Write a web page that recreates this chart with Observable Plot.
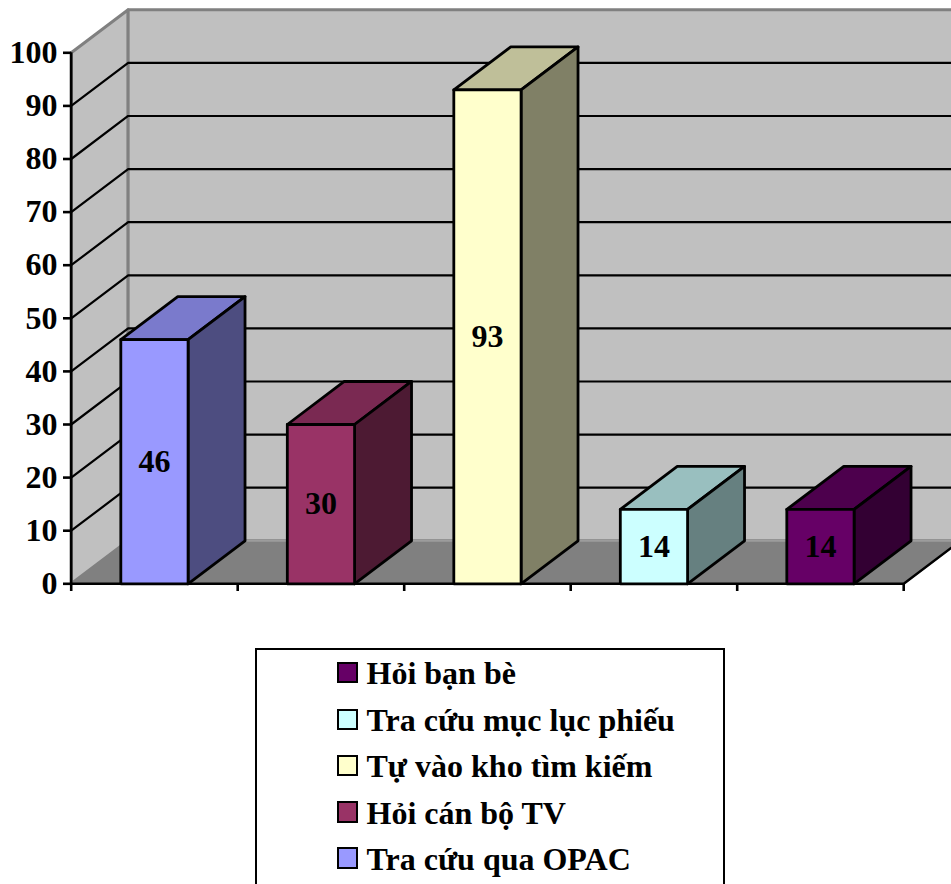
<!DOCTYPE html>
<html>
<head>
<meta charset="utf-8">
<script src="https://cdn.jsdelivr.net/npm/d3@7"></script>
<script src="https://cdn.jsdelivr.net/npm/@observablehq/plot@0.6"></script>
<style>
  html, body { margin: 0; padding: 0; background: #fff; overflow: hidden; height: 884px; }
  #chart svg { display: block; }
  #legend {
    position: absolute; left: 255px; top: 648px; width: 466px; height: 260px;
    border: 2.5px solid #000; border-bottom: none; box-sizing: content-box;
    font: bold 32px "Liberation Serif", serif; color: #000;
  }
  .row { position: absolute; left: 79.5px; height: 24px; display: flex; align-items: center; white-space: nowrap; }
  .swatch { width: 17.5px; height: 17.5px; border: 2px solid #000; margin-right: 8.5px; flex: none; }
  .row span:last-child { position: relative; top: 1px; }
</style>
</head>
<body>
<div id="chart"></div>
<div id="legend"></div>
<script>
// Series values, one bar per category, drawn left to right.
const categories = ["Tra cứu qua OPAC", "Hỏi cán bộ TV", "Tự vào kho tìm kiếm", "Tra cứu mục lục phiếu", "Hỏi bạn bè"];
const values = [46, 30, 93, 14, 14];
const frontColors = ["#9999FF", "#993366", "#FFFFCC", "#CCFFFF", "#660066"];
const topColors = ["#7A7ACC", "#7A2952", "#BFBF99", "#99BFBF", "#4D004D"];
const sideColors = ["#4D4D80", "#4D1A33", "#808066", "#668080", "#330033"];
const yTicks = [0, 10, 20, 30, 40, 50, 60, 70, 80, 90, 100];
const xTicks = [0, 1, 2, 3, 4, 5];

// Oblique projection of the chart's depth, expressed in data units.
const depthX = 0.342;
const depthY = 8.1;
const barHalf = 0.202;
const font = '"Liberation Serif", serif';

// A closed polygon in data space.
const poly = (pts, fill, stroke, strokeWidth) =>
  Plot.line([...pts, pts[0]].map(([x, y]) => ({x, y})), {x: "x", y: "y", fill, stroke, strokeWidth});

const n = categories.length;
const walls = [
  poly([[0, 0], [depthX, depthY], [depthX, 100 + depthY], [0, 100]], "#C0C0C0", "#808080", 3),
  poly([[depthX, depthY], [n + depthX, depthY], [n + depthX, 100 + depthY], [depthX, 100 + depthY]], "#C0C0C0", "#808080", 3),
  poly([[0, 0], [n, 0], [n + depthX, depthY], [depthX, depthY]], "#808080", "#808080", 1.5),
  // Lighter seam where the back wall meets the floor.
  Plot.line([{x: depthX, y: depthY}, {x: n + depthX, y: depthY}], {x: "x", y: "y", stroke: "#9C9C9C", strokeWidth: 2})
];

const grid = yTicks.filter(v => v > 0 && v < 100).map(v =>
  Plot.line([[0, v], [depthX, v + depthY], [n + depthX, v + depthY]].map(([x, y]) => ({x, y})),
    {x: "x", y: "y", stroke: "#000", strokeWidth: 2.2}));

const bars = values.flatMap((v, i) => {
  const x1 = i + 0.5 - barHalf, x2 = i + 0.5 + barHalf;
  return [
    poly([[x1, v], [x2, v], [x2 + depthX, v + depthY], [x1 + depthX, v + depthY]], topColors[i], "#000", 2.8),
    poly([[x2, 0], [x2 + depthX, depthY], [x2 + depthX, v + depthY], [x2, v]], sideColors[i], "#000", 2.8),
    poly([[x1, 0], [x2, 0], [x2, v], [x1, v]], frontColors[i], "#000", 2.8)
  ];
});

const plot = Plot.plot({
  width: 951,
  height: 640,
  marginLeft: 71,
  marginRight: 0,
  marginTop: 8,
  marginBottom: 57,
  x: {domain: [0, 880.3 / 166.5], range: [70.7, 951]},
  y: {domain: [0, 100 + depthY], range: [583.3, 583.3 - 5.31 * (100 + depthY)]},
  style: {background: "transparent", fontFamily: font, fontWeight: "bold", color: "#000", overflow: "hidden"},
  marks: [
    ...walls,
    ...grid,
    // Right-hand edge of the floor and the two front axis lines.
    Plot.line([{x: n, y: 0}, {x: n + depthX, y: depthY}], {x: "x", y: "y", stroke: "#000", strokeWidth: 2.4}),
    Plot.ruleY([0], {x1: 0, x2: n, stroke: "#000", strokeWidth: 2.6}),
    Plot.ruleX([0], {y1: 0, y2: 100, stroke: "#000", strokeWidth: 2.6}),
    ...bars,
    Plot.text(values, {
      x: (d, i) => i + 0.5, y: d => d / 2, text: d => String(d),
      fontSize: 32, fontWeight: "bold", fontFamily: font, fill: "#000"
    }),
    Plot.axisY(yTicks, {
      anchor: "left", label: null, tickSize: 8, tickPadding: 6, strokeWidth: 2.6,
      fontSize: 32, fontWeight: "bold", fontFamily: font, fill: "#000", stroke: "#000"
    }),
    Plot.axisX(xTicks, {
      anchor: "bottom", label: null, tickSize: 8, strokeWidth: 2.6, stroke: "#000",
      tickFormat: () => ""
    })
  ]
});
document.getElementById("chart").append(plot);

// Legend lists the series last to first.
const rowTops = [10.5, 57.5, 103.5, 150, 196];
const legend = d3.select("#legend");
d3.range(n).reverse().forEach((i, k) => {
  const row = legend.append("div").attr("class", "row").style("top", rowTops[k] + "px");
  row.append("span").attr("class", "swatch").style("background", frontColors[i]);
  row.append("span").text(categories[i]);
});
</script>
</body>
</html>
